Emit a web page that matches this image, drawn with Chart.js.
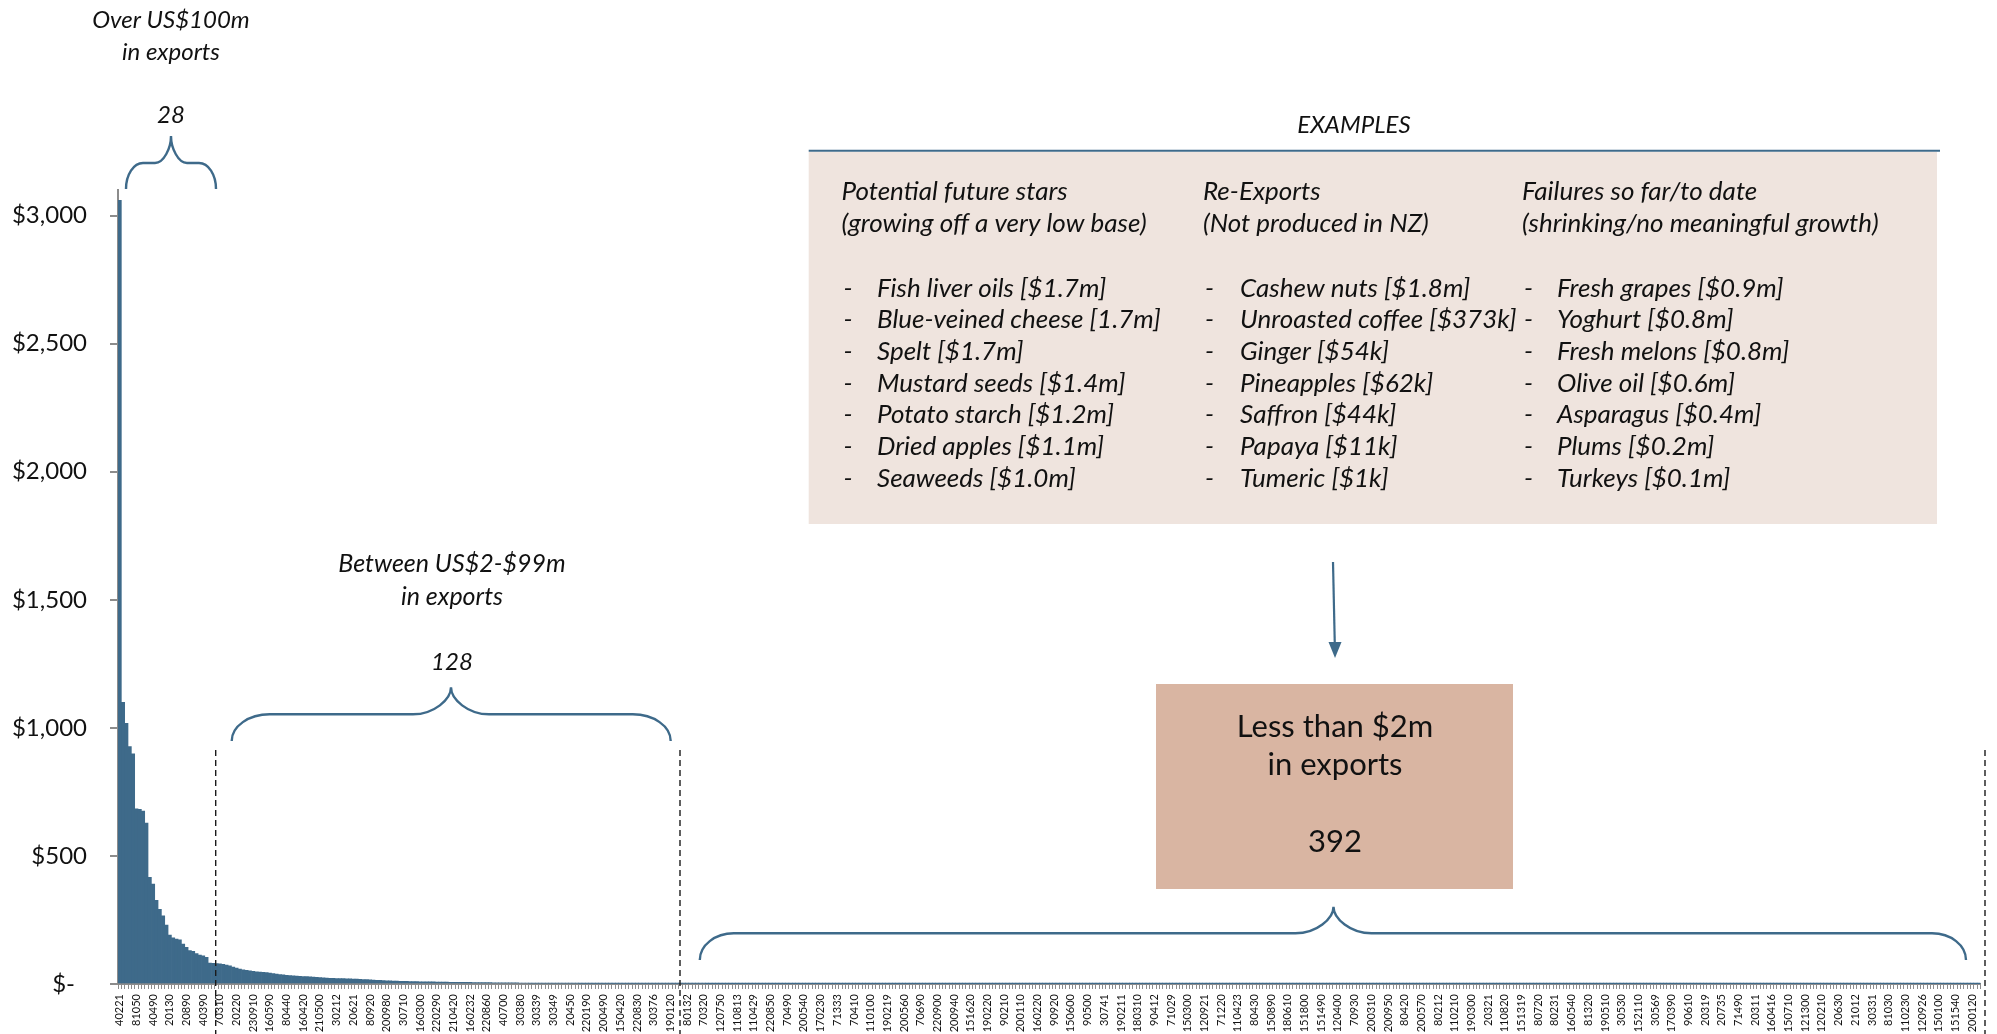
<!DOCTYPE html>
<html>
<head>
<meta charset="utf-8">
<title>Food export products by value</title>
<script src="https://cdn.jsdelivr.net/npm/chart.js@4.4.1/dist/chart.umd.min.js"></script>
<style>
  html, body { margin: 0; padding: 0; background: #ffffff; }
  canvas { display: block; }
</style>
</head>
<body>
<canvas id="chart" width="1997" height="1034"></canvas>
<script>
// Export value per HS product code, US$ millions, sorted largest to smallest.

// Products with over US$100m in exports
const over100m = [
  3060, 1100, 1018, 927, 899, 684, 682, 675, 628, 416,
  390, 327, 292, 266, 230, 191, 180, 175, 172, 156,
  143, 130, 128, 119, 113, 110, 104, 82
];

// Products with between US$2m and US$99m in exports
const between2and99m = [
  81, 80, 79, 77, 74, 71, 66, 62, 58, 55, 53, 51, 49, 48, 47, 46, 45, 43, 41, 39,
  37, 36, 34, 33, 31.5, 30.5, 29.7, 29, 28.5, 28, 27, 26, 25, 24, 23, 22.5, 22, 21.5, 21, 20.8,
  20.6, 20.2, 19.5, 18.8, 18, 17.3, 16.8, 16.2, 15.5, 14.8, 14, 13, 12.5, 12, 11.6, 11.2, 10.8, 10.4, 10, 9.7,
  9.3, 9, 8.8, 8.6, 8.4, 8.2, 8.0, 7.8, 7.6, 7.4, 7.2, 7.0, 6.9, 6.8, 6.6, 6.5, 6.4, 6.2, 6.0, 5.8,
  5.6, 5.4, 5.3, 5.1, 5.0, 4.8, 4.6, 4.5, 4.4, 4.3, 4.2, 4.1, 4.0, 3.9, 3.8, 3.7, 3.6, 3.5, 3.45, 3.4,
  3.3, 3.25, 3.2, 3.1, 3.05, 3.0, 2.95, 2.9, 2.85, 2.8, 2.75, 2.7, 2.65, 2.6, 2.56, 2.52, 2.48, 2.44, 2.4, 2.37,
  2.34, 2.31, 2.28, 2.25, 2.22, 2.2, 2.18, 2.16, 2.14, 2.12, 2.1, 2.09, 2.08, 2.06, 2.05, 2.04, 2.03, 2.02, 2.01, 2.0
];

// Products with less than US$2m in exports
const under2m = [
  1.95, 1.93, 1.90, 1.88, 1.86, 1.84, 1.81, 1.79, 1.77, 1.75, 1.73, 1.71, 1.70, 1.68, 1.66, 1.64, 1.62, 1.60, 1.58, 1.56,
  1.54, 1.52, 1.51, 1.49, 1.47, 1.45, 1.43, 1.42, 1.40, 1.38, 1.36, 1.35, 1.33, 1.31, 1.30, 1.28, 1.27, 1.25, 1.24, 1.22,
  1.21, 1.19, 1.18, 1.16, 1.15, 1.13, 1.12, 1.10, 1.09, 1.08, 1.06, 1.05, 1.04, 1.02, 1.01, 1.00, 0.98, 0.97, 0.96, 0.95,
  0.93, 0.92, 0.91, 0.90, 0.89, 0.88, 0.86, 0.85, 0.84, 0.83, 0.82, 0.81, 0.80, 0.79, 0.78, 0.77, 0.76, 0.75, 0.74, 0.73,
  0.72, 0.71, 0.70, 0.69, 0.68, 0.67, 0.66, 0.655, 0.645, 0.635, 0.625, 0.615, 0.605, 0.60, 0.59, 0.58, 0.57, 0.565, 0.555, 0.545,
  0.54, 0.53, 0.52, 0.515, 0.505, 0.50, 0.49, 0.485, 0.475, 0.47, 0.46, 0.455, 0.445, 0.44, 0.435, 0.425, 0.42, 0.41, 0.405, 0.40,
  0.39, 0.385, 0.38, 0.372, 0.365, 0.36, 0.352, 0.347, 0.34, 0.335, 0.33, 0.322, 0.317, 0.311, 0.306, 0.30, 0.295, 0.29, 0.285, 0.28,
  0.275, 0.27, 0.265, 0.26, 0.255, 0.25, 0.246, 0.241, 0.237, 0.232, 0.228, 0.224, 0.22, 0.216, 0.212, 0.208, 0.204, 0.2, 0.196, 0.193,
  0.189, 0.186, 0.182, 0.179, 0.175, 0.172, 0.169, 0.166, 0.163, 0.16, 0.157, 0.154, 0.151, 0.148, 0.145, 0.143, 0.14, 0.137, 0.135, 0.132,
  0.13, 0.127, 0.125, 0.122, 0.12, 0.118, 0.115, 0.113, 0.111, 0.109, 0.107, 0.105, 0.103, 0.101, 0.099, 0.097, 0.095, 0.093, 0.091, 0.089,
  0.088, 0.086, 0.084, 0.083, 0.081, 0.079, 0.078, 0.076, 0.075, 0.073, 0.072, 0.07, 0.069, 0.068, 0.066, 0.065, 0.064, 0.062, 0.061, 0.06,
  0.059, 0.058, 0.057, 0.055, 0.054, 0.053, 0.052, 0.051, 0.05, 0.049, 0.048, 0.047, 0.046, 0.045, 0.044, 0.043, 0.043, 0.042, 0.041, 0.04,
  0.039, 0.038, 0.038, 0.037, 0.036, 0.035, 0.035, 0.034, 0.033, 0.032, 0.032, 0.031, 0.03, 0.03, 0.029, 0.028, 0.028, 0.027, 0.027, 0.026,
  0.025, 0.025, 0.024, 0.024, 0.023, 0.023, 0.022, 0.022, 0.021, 0.021, 0.02, 0.02, 0.019, 0.019, 0.018, 0.018, 0.017, 0.017, 0.017, 0.016,
  0.016, 0.015, 0.015, 0.015, 0.014, 0.014, 0.014, 0.013, 0.013, 0.013, 0.012, 0.012, 0.012, 0.011, 0.011, 0.011, 0.011, 0.01, 0.01, 0.01,
  0.0095, 0.0092, 0.009, 0.0087, 0.0085, 0.0082, 0.008, 0.0078, 0.0075, 0.0073, 0.0071, 0.0069, 0.0067, 0.0065, 0.0063, 0.0061, 0.006, 0.0058, 0.0056, 0.0055,
  0.0053, 0.0052, 0.005, 0.0049, 0.0047, 0.0046, 0.0045, 0.0043, 0.0042, 0.0041, 0.004, 0.0039, 0.0037, 0.0036, 0.0035, 0.0034, 0.0033, 0.0032, 0.0031, 0.003,
  0.0029, 0.0028, 0.0028, 0.0027, 0.0026, 0.0025, 0.0024, 0.0024, 0.0023, 0.0022, 0.0021, 0.0021, 0.002, 0.0019, 0.0019, 0.0018, 0.0017, 0.0017, 0.0016, 0.0016,
  0.0015, 0.0015, 0.0014, 0.0014, 0.0013, 0.0013, 0.0012, 0.0012, 0.0011, 0.0011, 0.0011, 0.001, 0.001, 0.001, 0.0009, 0.0009, 0.0009, 0.0008, 0.0008, 0.0008,
  0.0007, 0.0007, 0.0007, 0.0006, 0.0006, 0.0005, 0.0005, 0.0004, 0.0003, 0.0002
];

// HS codes printed under every fifth product
const tickLabels = [
  '40221', '81050', '40490', '20130', '20890', '40390', '70310', '20220', '230910', '160590',
  '80440', '160420', '210500', '30212', '20621', '80920', '200980', '30710', '160300', '220290',
  '210420', '160232', '220860', '40700', '30380', '30339', '30349', '20450', '220190', '200490',
  '150420', '220830', '30376', '190120', '80132', '70320', '120750', '110813', '110429', '220850',
  '70490', '200540', '170230', '71333', '70410', '110100', '190219', '200560', '70690', '220900',
  '200940', '151620', '190220', '90210', '200110', '160220', '90920', '150600', '90500', '30741',
  '190211', '180310', '90412', '71029', '150300', '120921', '71220', '110423', '80430', '150890',
  '180610', '151800', '151490', '120400', '70930', '200310', '200950', '80420', '200570', '80212',
  '110210', '190300', '20321', '110820', '151319', '80720', '80231', '160540', '81320', '190510',
  '30530', '152110', '30569', '170390', '90610', '20319', '20735', '71490', '20311', '160416',
  '150710', '121300', '120210', '20630', '21012', '30331', '81030', '110230', '120926', '150100',
  '151540', '200120'
];
const labelEvery = 5;

// Value axis ticks, US$ millions
const yTicks = [0, 500, 1000, 1500, 2000, 2500, 3000];

// Example products shown in the panel
const exampleColumns = [
  { title: ['Potential future stars', '(growing off a very low base)'],
    items: ['Fish liver oils [$1.7m]', 'Blue-veined cheese [1.7m]', 'Spelt [$1.7m]', 'Mustard seeds [$1.4m]',
            'Potato starch [$1.2m]', 'Dried apples [$1.1m]', 'Seaweeds [$1.0m]'] },
  { title: ['Re-Exports', '(Not produced in NZ)'],
    items: ['Cashew nuts [$1.8m]', 'Unroasted coffee [$373k]', 'Ginger [$54k]', 'Pineapples [$62k]',
            'Saffron [$44k]', 'Papaya [$11k]', 'Tumeric [$1k]'] },
  { title: ['Failures so far/to date', '(shrinking/no meaningful growth)'],
    items: ['Fresh grapes [$0.9m]', 'Yoghurt [$0.8m]', 'Fresh melons [$0.8m]', 'Olive oil [$0.6m]',
            'Asparagus [$0.4m]', 'Plums [$0.2m]', 'Turkeys [$0.1m]'] }
];

const exportValues = [...over100m, ...between2and99m, ...under2m];
const productIndex = exportValues.map((_, i) => i);

const BLUE = '#3e6a8a';
const AXIS_GREY = '#8c8c8c';
const FONT = 'Lato, "Open Sans", sans-serif';

function drawBrace(ctx, x1, x2, xTip, yEnd, yMid, yTip, rEnd, rTip) {
  const k = 0.552;
  const hEnd = yEnd - yMid;
  const hTip = yMid - yTip;
  ctx.beginPath();
  ctx.moveTo(x1, yEnd);
  ctx.bezierCurveTo(x1, yEnd - k * hEnd, x1 + rEnd - k * rEnd, yMid, x1 + rEnd, yMid);
  ctx.lineTo(xTip - rTip, yMid);
  ctx.bezierCurveTo(xTip - rTip + k * rTip, yMid, xTip, yMid - k * hTip, xTip, yTip);
  ctx.bezierCurveTo(xTip, yMid - k * hTip, xTip + rTip - k * rTip, yMid, xTip + rTip, yMid);
  ctx.lineTo(x2 - rEnd, yMid);
  ctx.bezierCurveTo(x2 - rEnd + k * rEnd, yMid, x2, yEnd - k * hEnd, x2, yEnd);
  ctx.stroke();
}

function centredLines(ctx, lines, x, ys, font) {
  ctx.font = font;
  ctx.textAlign = 'center';
  ctx.textBaseline = 'middle';
  lines.forEach((t, i) => ctx.fillText(t, x, ys[i]));
}

const annotations = {
  id: 'bandAnnotations',
  afterDraw(chart) {
    const ctx = chart.ctx;
    ctx.save();
    ctx.fillStyle = '#111111';

    // Group separators
    ctx.strokeStyle = '#1a1a1a';
    ctx.lineWidth = 1.4;
    ctx.setLineDash([6, 4]);
    [215.7, 680, 1985].forEach(x => {
      ctx.beginPath();
      ctx.moveTo(x, 750);
      ctx.lineTo(x, 1034);
      ctx.stroke();
    });
    ctx.setLineDash([]);

    // Braces over each group
    ctx.strokeStyle = BLUE;
    ctx.lineWidth = 2.4;
    drawBrace(ctx, 126, 216, 171, 189, 163, 136, 17, 16);
    drawBrace(ctx, 231.7, 670.7, 451, 741, 714.3, 687.3, 38, 38);
    drawBrace(ctx, 699.8, 1966, 1333.5, 960, 933.3, 906.7, 34, 38);

    // Group captions
    const caption = 'italic 24px ' + FONT;
    centredLines(ctx, ['Over US$100m', 'in exports'], 171, [20, 52], caption);
    centredLines(ctx, ['28'], 171, [115], caption);
    centredLines(ctx, ['Between US$2-$99m', 'in exports'], 452, [564, 597], 'italic 25px ' + FONT);
    centredLines(ctx, ['128'], 452, [662], caption);

    // Examples panel
    ctx.fillStyle = '#efe4de';
    ctx.fillRect(808.7, 152, 1937 - 808.7, 524 - 152);
    ctx.strokeStyle = BLUE;
    ctx.lineWidth = 2;
    ctx.beginPath();
    ctx.moveTo(808.7, 150.7);
    ctx.lineTo(1940, 150.7);
    ctx.stroke();
    ctx.fillStyle = '#111111';
    centredLines(ctx, ['EXAMPLES'], 1354, [125], caption);

    ctx.font = 'italic 26px ' + FONT;
    ctx.textAlign = 'left';
    ctx.textBaseline = 'middle';
    const colX = [[841.5, 877], [1203, 1240], [1522, 1557]];
    const titleY = [191.7, 223.3];
    const itemY = [288.3, 320, 351.7, 383.3, 415, 446.7, 478.3];
    exampleColumns.forEach((col, c) => {
      const [hx, tx] = colX[c];
      col.title.forEach((t, i) => ctx.fillText(t, hx, titleY[i]));
      col.items.forEach((t, i) => {
        ctx.fillText('-', hx + 2, itemY[i]);
        ctx.fillText(t, tx, itemY[i]);
      });
    });

    // Arrow from the panel to the small-exports box
    ctx.strokeStyle = BLUE;
    ctx.fillStyle = BLUE;
    ctx.lineWidth = 2.2;
    ctx.beginPath();
    ctx.moveTo(1333, 562);
    ctx.lineTo(1334.8, 645);
    ctx.stroke();
    ctx.beginPath();
    ctx.moveTo(1335, 658);
    ctx.lineTo(1328.5, 642);
    ctx.lineTo(1341.5, 642);
    ctx.closePath();
    ctx.fill();

    // Small-exports box
    ctx.fillStyle = '#d9b5a2';
    ctx.fillRect(1156, 684, 1513 - 1156, 889 - 684);
    ctx.fillStyle = '#111111';
    centredLines(ctx, ['Less than $2m', 'in exports', '392'], 1335, [727, 765, 842], '31px ' + FONT);

    ctx.restore();
  }
};

new Chart(document.getElementById('chart'), {
  type: 'bar',
  data: {
    labels: productIndex,
    datasets: [{
      data: exportValues,
      backgroundColor: BLUE,
      borderWidth: 0,
      barPercentage: 1,
      categoryPercentage: 1
    }]
  },
  options: {
    responsive: false,
    animation: false,
    devicePixelRatio: 1,
    layout: { padding: { top: 190, right: 12, left: 0, bottom: 0 } },
    plugins: {
      legend: { display: false },
      tooltip: { enabled: false },
      title: { display: false }
    },
    scales: {
      x: {
        grid: { drawOnChartArea: false, drawTicks: true, tickLength: 5, color: AXIS_GREY, lineWidth: 1, offset: true },
        border: { display: true, color: AXIS_GREY, width: 2 },
        ticks: {
          autoSkip: false,
          minRotation: 90,
          maxRotation: 90,
          padding: 5,
          color: '#111111',
          font: { family: FONT, size: 11 },
          callback: (value, index) => index % labelEvery === 0 ? (tickLabels[index / labelEvery] || '') : ''
        },
        afterFit: scale => { scale.height = 50; }
      },
      y: {
        min: 0,
        max: 3100,
        grid: { drawOnChartArea: false, drawTicks: true, tickLength: 8, color: AXIS_GREY, lineWidth: 2 },
        border: { display: true, color: AXIS_GREY, width: 2 },
        afterBuildTicks: scale => { scale.ticks = yTicks.map(v => ({ value: v })); },
        ticks: {
          padding: 23,
          color: '#111111',
          font: { family: FONT, size: 24 },
          callback: value => value === 0 ? '$-\u2002' : '$' + value.toLocaleString('en-US')
        },
        afterFit: scale => { scale.width = 118; }
      }
    }
  },
  plugins: [annotations]
});
</script>
</body>
</html>
